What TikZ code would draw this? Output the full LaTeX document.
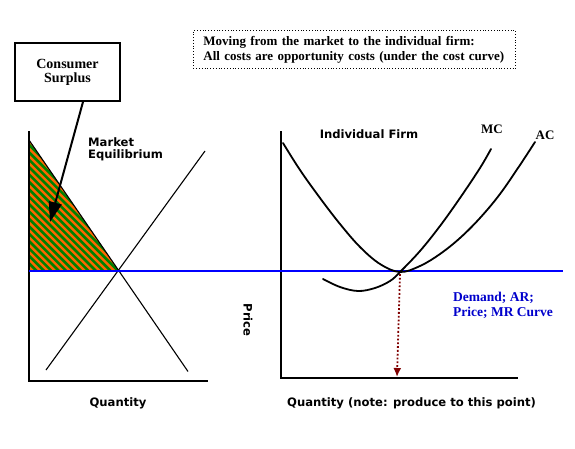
\documentclass[tikz,border=0pt]{standalone}
\usepackage{fontspec}
\setmainfont{Liberation Serif}
\newfontfamily\lblfont{DejaVu Sans}
\usetikzlibrary{arrows.meta}
\definecolor{darkred}{RGB}{128,0,0}
\definecolor{stripeorange}{RGB}{255,102,0}
\definecolor{stripegreen}{RGB}{0,128,0}
\definecolor{lineblue}{RGB}{0,0,255}
\definecolor{textblue}{RGB}{0,0,204}
\begin{document}
\begin{tikzpicture}[x=1pt,y=-1pt,
  serifb/.style={font=\fontsize{13}{15}\selectfont\bfseries, inner sep=0pt},
  sansl/.style={font=\lblfont\fontsize{11.6}{14}\selectfont\bfseries, inner sep=0pt},
  axisline/.style={line width=1.5pt, line cap=rect},
  straightline/.style={line width=1.1pt},
  costline/.style={line width=1.8pt, line cap=round},
  ]
\useasboundingbox[fill=white] (0,0) rectangle (575,449);

% ---------- shaded consumer surplus ----------
\begin{scope}
  \clip (29,140) -- (29,271) -- (119,271) -- cycle;
  \fill[stripeorange] (20,130) rectangle (130,280);
  \foreach \k in {-25,...,20}{
    \draw[stripegreen, line width=2.6pt] (29+\k*7.4-150,130-150) -- (29+\k*7.4+150,130+150);
  }
\end{scope}

% ---------- left graph ----------
\coordinate (Ltop) at (29,132);
\coordinate (Lorig) at (29,381);
\coordinate (Lright) at (207,381);
\draw[axisline] (Ltop) -- (Lorig) -- (Lright);
\coordinate (D1) at (29,140);
\coordinate (D2) at (188,371.5);
\coordinate (S1) at (205,151);
\coordinate (S2) at (46,370);
\draw[straightline] (D1) -- (D2);
\draw[straightline] (S1) -- (S2);

% ---------- right graph ----------
\coordinate (Rtop) at (281,132);
\coordinate (Rorig) at (281,378);
\coordinate (Rright) at (517,378);
\draw[axisline] (Rtop) -- (Rorig) -- (Rright);

% blue price line
\coordinate (P1) at (29,271);
\coordinate (P2) at (563,271);
\draw[lineblue, line width=1.8pt] (P1) -- (P2);

% AC curve
\draw[costline] plot[smooth, tension=0.6] coordinates {
  (283,143) (300,170) (320,198) (340,224) (360,247) (380,264) (400,272)
  (420,266) (440,254) (460,238) (480,218) (500,194) (520,165) (535,142)};
% MC curve
\draw[costline] plot[smooth, tension=0.6] coordinates {
  (323,279) (340,287) (358,291) (375,288) (390,281) (400,272)
  (420,251) (440,226) (460,198) (480,168) (491,149)};

% dotted arrow to quantity
\coordinate (eqR) at (400,274);
\coordinate (qstar) at (397,377);
\draw[darkred, dotted, line width=1.8pt, -{Latex[length=9pt,width=8pt]}] (eqR) -- (qstar);

% ---------- boxes ----------
\node[draw, line width=1.8pt, minimum width=105pt, minimum height=58pt,
      align=center, font=\fontsize{14}{14}\selectfont\bfseries] (cs) at (67.5,72)
      {Consumer\\Surplus};
\coordinate (cstip) at (50,222);
\draw[line width=2pt, -{Triangle[length=20pt,width=13pt]}]
  ([xshift=15.5pt]cs.south) -- (cstip);

\node[draw, dotted, line width=0.8pt, anchor=north west, minimum width=322pt,
      minimum height=38pt, text width=302pt, inner xsep=10pt, align=left,
      font=\fontsize{13}{15}\selectfont\bfseries] (topbox) at (193,30)
      {Moving from the market to the individual firm:\\All costs are opportunity costs (under the cost curve)};

% ---------- labels ----------
\node[sansl, anchor=west, align=left] (mkt) at (88,149.5) {Market\\[-1.5pt]Equilibrium};
\node[sansl] (qL) at (118,403) {Quantity};
\node[sansl] (ind) at (369,134) {Individual Firm};
\node[serifb] (mc) at (492,129) {MC};
\node[serifb] (ac) at (545,135) {AC};
\node[sansl, rotate=-90] (price) at (248,320) {Price};
\node[sansl, anchor=west] (qR) at (287,403) {Quantity (note: produce to this point)};
\node[anchor=west, align=left, text=textblue, inner sep=0pt,
      font=\fontsize{13.5}{15}\selectfont\bfseries] (dem) at (453,305.5)
  {Demand; AR;\\Price; MR Curve};
\end{tikzpicture}
\end{document}
